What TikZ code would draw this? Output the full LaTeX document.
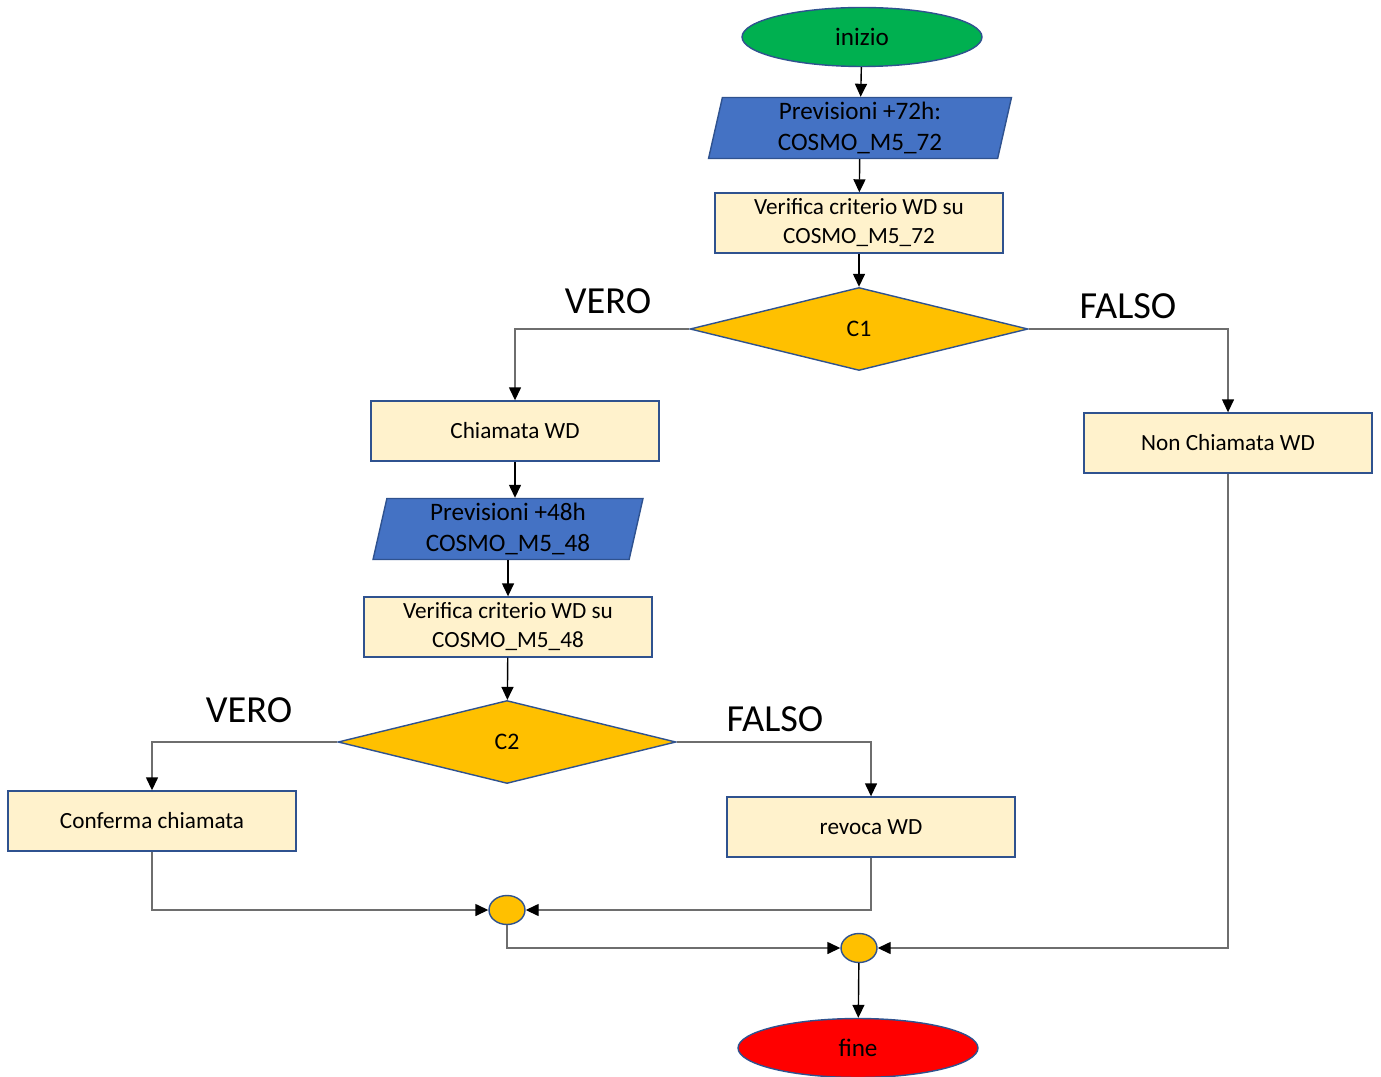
\documentclass[tikz,border=0pt]{standalone}
\usepackage{fontspec}
\setmainfont{Carlito}
\usetikzlibrary{shapes.geometric,arrows.meta}

\definecolor{bordo}{HTML}{2F528F}
\definecolor{verde}{HTML}{00B050}
\definecolor{blu}{HTML}{4472C4}
\definecolor{crema}{HTML}{FFF2CC}
\definecolor{giallo}{HTML}{FFC000}
\definecolor{rosso}{HTML}{FF0000}
\definecolor{linea}{HTML}{6E6E6E}

\begin{document}
\begin{tikzpicture}[x=0.02cm,y=-0.02cm,
    terminale/.style={draw=bordo,line width=0.8pt,ellipse,minimum width=4.8cm,minimum height=1.18cm,inner sep=0pt,font=\fontsize{14.3}{17}\selectfont},
    dati/.style={draw=bordo,line width=0.8pt,fill=blu,trapezium,trapezium left angle=75,trapezium right angle=105,trapezium stretches body,minimum width=5.4cm,minimum height=1.22cm,inner sep=0pt,align=center,font=\fontsize{14.3}{17.6}\selectfont},
    blocco/.style={draw=bordo,line width=0.8pt,fill=crema,rectangle,minimum width=5.76cm,minimum height=1.2cm,inner sep=0pt,align=center,font=\fontsize{13.2}{16.5}\selectfont},
    scelta/.style={draw=bordo,line width=0.8pt,fill=giallo,diamond,minimum width=6.76cm,minimum height=1.66cm,inner sep=0pt,font=\fontsize{13.5}{16}\selectfont},
    nodo/.style={draw=bordo,line width=0.8pt,fill=giallo,ellipse,minimum width=0.72cm,minimum height=0.58cm,inner sep=0pt},
    esito/.style={font=\fontsize{21.8}{26}\selectfont},
    freccia/.style={draw=black,line width=0.8pt,-{Triangle[length=0.26cm,width=0.24cm]}},
    ramo/.style={draw=linea,line width=0.8pt,-{Triangle[length=0.26cm,width=0.24cm,color=black]}}]

    \useasboundingbox (0,0) rectangle (1381,1077);

    % blocchi
    \node[terminale,fill=verde] (inizio) at (862,37) {inizio};
    \node[dati,minimum width=6.06cm] (prev72) at (860,128) {Previsioni +72h:\\COSMO\_M5\_72};
    \node[blocco] (verifica72) at (859,223) {Verifica criterio WD su\\COSMO\_M5\_72};
    \node[scelta] (c1) at (859,329) {C1};
    \node[blocco] (chiamata) at (515,431) {Chiamata WD};
    \node[blocco] (nonchiamata) at (1228,443) {Non Chiamata WD};
    \node[dati] (prev48) at (508,529) {Previsioni +48h\\COSMO\_M5\_48};
    \node[blocco] (verifica48) at (508,627) {Verifica criterio WD su\\COSMO\_M5\_48};
    \node[scelta] (c2) at (507,742) {C2};
    \node[blocco] (conferma) at (152,821) {Conferma chiamata};
    \node[blocco] (revoca) at (871,827) {revoca WD};
    \node[nodo] (j1) at (507,910) {};
    \node[nodo] (j2) at (859,948) {};
    \node[terminale,fill=rosso] (fine) at (858,1048) {fine};

    % etichette
    \node[esito] (vero1) at (608,301) {VERO};
    \node[esito] (falso1) at (1128,306) {FALSO};
    \node[esito] (vero2) at (249,710) {VERO};
    \node[esito] (falso2) at (775,719) {FALSO};

    % collegamenti
    \draw[freccia] (inizio) -- (prev72);
    \draw[freccia] (prev72) -- (verifica72);
    \draw[freccia] (verifica72) -- (c1);
    \draw[ramo] (c1.west) -| (chiamata.north);
    \draw[ramo] (c1.east) -| (nonchiamata.north);
    \draw[freccia] (chiamata.south) -- (chiamata.south |- prev48.north);
    \draw[freccia] (prev48.south) -- (prev48.south |- verifica48.north);
    \draw[freccia] (verifica48) -- (c2);
    \draw[ramo] (c2.west) -| (conferma.north);
    \draw[ramo] (c2.east) -| (revoca.north);
    \draw[ramo] (conferma.south) |- (j1.west);
    \draw[ramo] (revoca.south) |- (j1.east);
    \draw[ramo] (j1.south) |- (j2.west);
    \draw[ramo] (nonchiamata.south) |- (j2.east);
    \draw[freccia] (j2) -- (fine);
\end{tikzpicture}
\end{document}
